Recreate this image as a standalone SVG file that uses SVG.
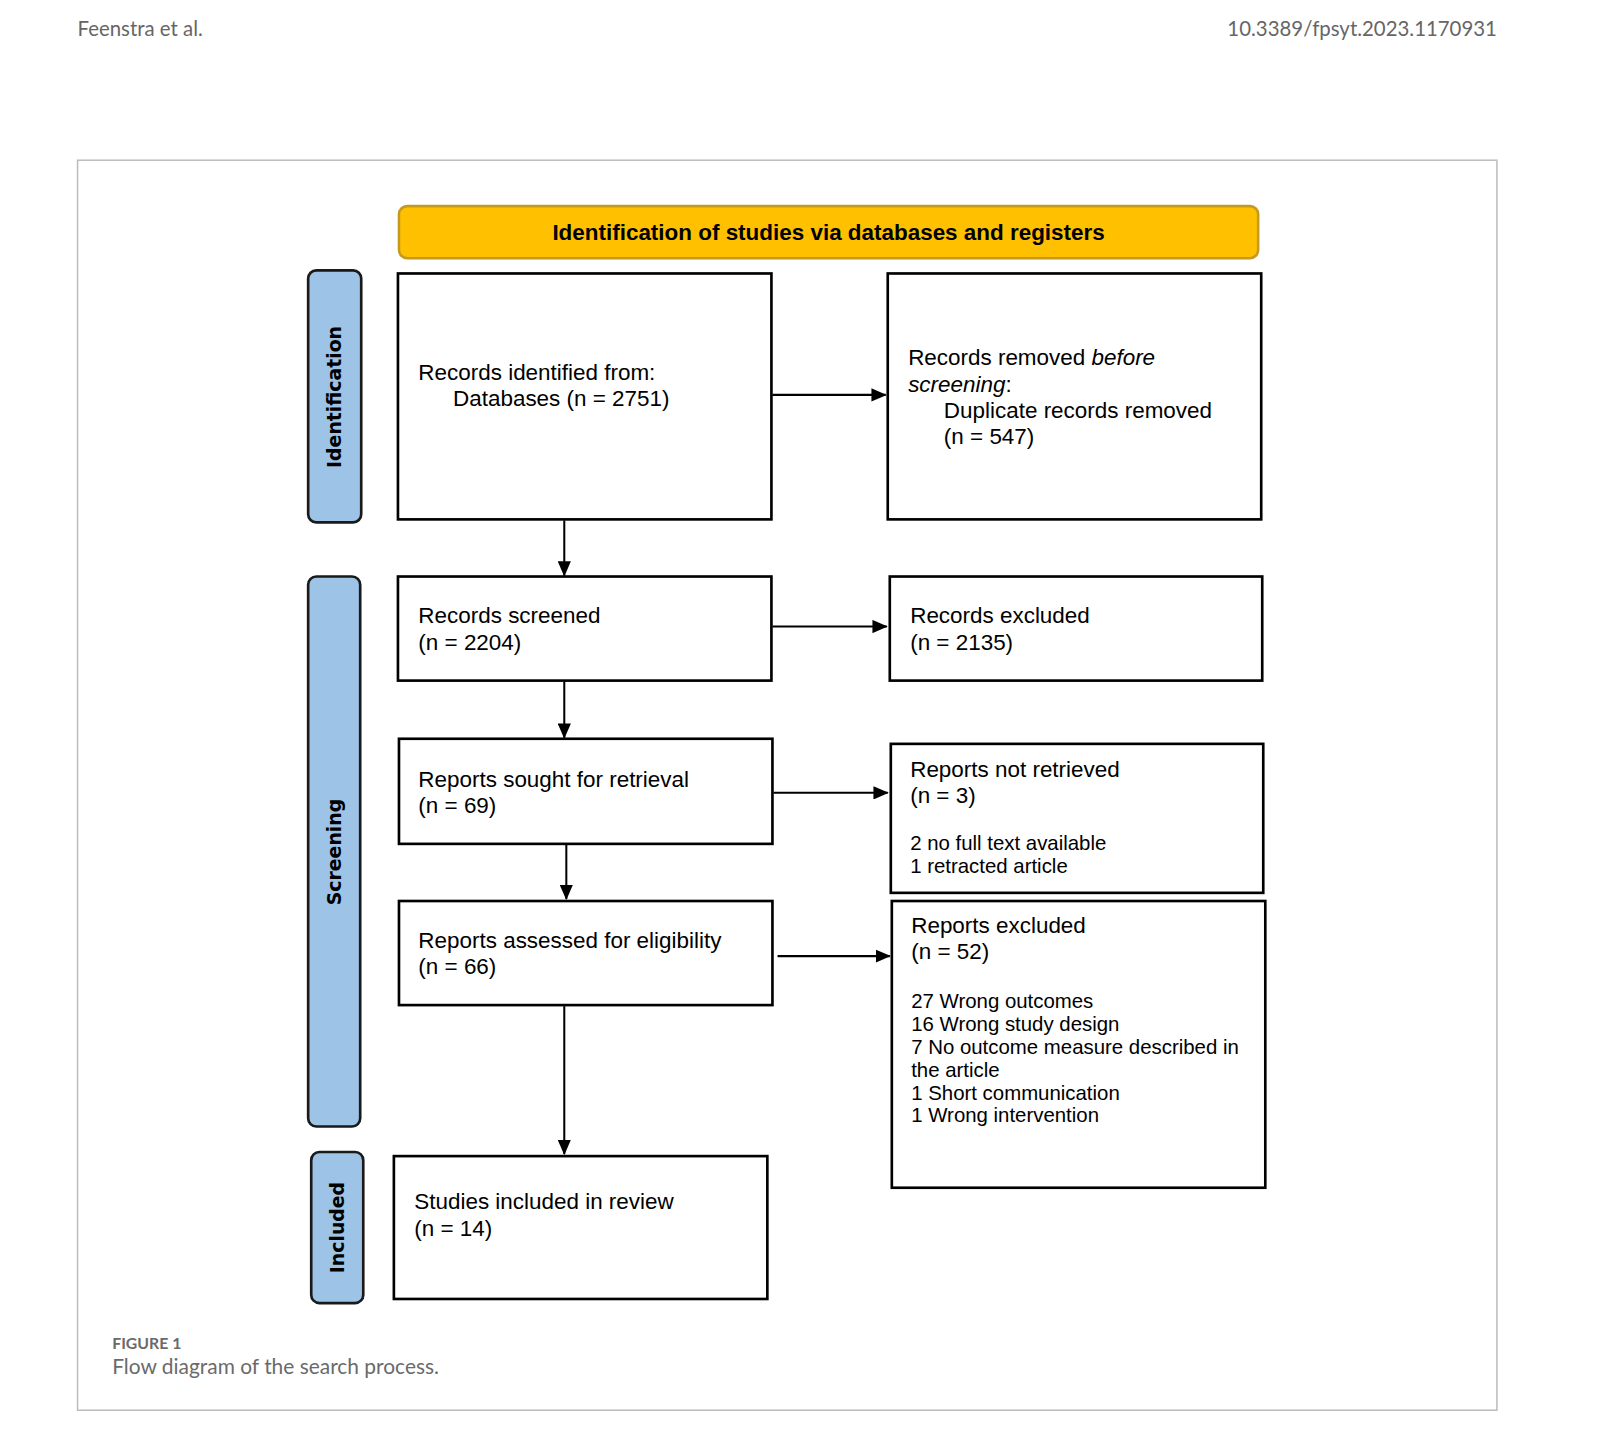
<svg xmlns="http://www.w3.org/2000/svg" width="1600" height="1440" viewBox="0 0 1600 1440">
<style>
.hdr{font-family:Lato,"Open Sans",sans-serif;font-size:20px;fill:#666}
.box{fill:#fff;stroke:#000;stroke-width:2.6}
.phase{fill:#9DC3E6;stroke:#1a1a1a;stroke-width:2.6}
.ph{font-family:"DejaVu Sans",Verdana,sans-serif;font-size:18.5px;font-weight:bold;fill:#000}
.t{font-family:"Liberation Sans",Arial,sans-serif;font-size:22px;fill:#000}
.s{font-family:"Liberation Sans",Arial,sans-serif;font-size:20px;fill:#000}
.con{stroke:#000;stroke-width:2;fill:none;marker-end:url(#ah)}
</style>
<defs>
<marker id="ah" markerWidth="15" markerHeight="13" refX="14" refY="6.5" orient="auto" markerUnits="userSpaceOnUse">
<path d="M0,0 L15,6.5 L0,13 Z" fill="#000"/>
</marker>
</defs>
<rect width="1600" height="1440" fill="#fff"/>
<g transform="scale(1.0204)">
<text class="hdr" x="76" y="35">Feenstra et al.</text>
<text class="hdr" x="1467" y="35" text-anchor="end">10.3389/fpsyt.2023.1170931</text>
<rect x="76" y="157" width="1391" height="1225" fill="none" stroke="#bdbdbd" stroke-width="1.5"/>

<g id="title">
<rect x="391" y="202" width="842" height="51" rx="8" fill="#FFC000" stroke="#C49A1E" stroke-width="2.5"/>
<text x="812" y="235" text-anchor="middle" font-family="Liberation Sans, Arial, sans-serif" font-size="22" font-weight="bold">Identification of studies via databases and registers</text>
</g>

<g id="phase-identification">
<rect class="phase" x="302" y="265" width="52" height="247" rx="8"/>
<text class="ph" transform="translate(334.5,389) rotate(-90)" text-anchor="middle">Identification</text>
</g>
<g id="phase-screening">
<rect class="phase" x="302" y="565" width="51" height="539" rx="8"/>
<text class="ph" transform="translate(334.5,835) rotate(-90)" text-anchor="middle">Screening</text>
</g>
<g id="phase-included">
<rect class="phase" x="305" y="1129" width="51" height="148" rx="8"/>
<text class="ph" transform="translate(337,1203) rotate(-90)" text-anchor="middle">Included</text>
</g>

<g id="records-identified">
<rect class="box" x="390" y="268" width="366" height="241"/>
<text class="t" x="410" y="372">Records identified from:</text>
<text class="t" x="444" y="398">Databases (n = 2751)</text>
</g>
<g id="records-removed">
<rect class="box" x="870" y="268" width="366" height="241"/>
<text class="t" x="890" y="358">Records removed <tspan font-style="italic">before</tspan></text>
<text class="t" x="890" y="384"><tspan font-style="italic">screening</tspan>:</text>
<text class="t" x="925" y="410">Duplicate records removed</text>
<text class="t" x="925" y="435">(n = 547)</text>
</g>
<g id="records-screened">
<rect class="box" x="390" y="565" width="366" height="102"/>
<text class="t" x="410" y="611">Records screened</text>
<text class="t" x="410" y="637">(n = 2204)</text>
</g>
<g id="records-excluded">
<rect class="box" x="872" y="565" width="365" height="102"/>
<text class="t" x="892" y="611">Records excluded</text>
<text class="t" x="892" y="637">(n = 2135)</text>
</g>
<g id="reports-sought">
<rect class="box" x="391" y="724" width="366" height="103"/>
<text class="t" x="410" y="771">Reports sought for retrieval</text>
<text class="t" x="410" y="797">(n = 69)</text>
</g>
<g id="reports-not-retrieved">
<rect class="box" x="873" y="729" width="365" height="146"/>
<text class="t" x="892" y="761">Reports not retrieved</text>
<text class="t" x="892" y="787">(n = 3)</text>
<text class="s" x="892" y="833">2 no full text available</text>
<text class="s" x="892" y="856">1 retracted article</text>
</g>
<g id="reports-assessed">
<rect class="box" x="391" y="883" width="366" height="102"/>
<text class="t" x="410" y="929">Reports assessed for eligibility</text>
<text class="t" x="410" y="955">(n = 66)</text>
</g>
<g id="reports-excluded">
<rect class="box" x="874" y="883" width="366" height="281"/>
<text class="t" x="893" y="914">Reports excluded</text>
<text class="t" x="893" y="940">(n = 52)</text>
<text class="s" x="893" y="988">27 Wrong outcomes</text>
<text class="s" x="893" y="1010">16 Wrong study design</text>
<text class="s" x="893" y="1033">7 No outcome measure described in</text>
<text class="s" x="893" y="1055">the article</text>
<text class="s" x="893" y="1078">1 Short communication</text>
<text class="s" x="893" y="1100">1 Wrong intervention</text>
</g>
<g id="studies-included">
<rect class="box" x="386" y="1133" width="366" height="140"/>
<text class="t" x="406" y="1185">Studies included in review</text>
<text class="t" x="406" y="1211">(n = 14)</text>
</g>

<g id="connectors">
<line class="con" x1="757" y1="387" x2="868" y2="387"/>
<line class="con" x1="553" y1="510" x2="553" y2="564"/>
<line class="con" x1="757" y1="614" x2="869" y2="614"/>
<line class="con" x1="553" y1="668" x2="553" y2="723"/>
<line class="con" x1="758" y1="777" x2="870" y2="777"/>
<line class="con" x1="555" y1="828" x2="555" y2="881"/>
<line class="con" x1="762" y1="937" x2="872" y2="937"/>
<line class="con" x1="553" y1="986" x2="553" y2="1131"/>
</g>

<g id="caption">
<text x="110" y="1322" font-family="Lato, 'Open Sans', sans-serif" font-size="15.5" font-weight="bold" fill="#6a6a6a">FIGURE 1</text>
<text x="110" y="1347" font-family="Lato, 'Open Sans', sans-serif" font-size="20.5" fill="#6a6a6a">Flow diagram of the search process.</text>
</g>
</g>
</svg>
